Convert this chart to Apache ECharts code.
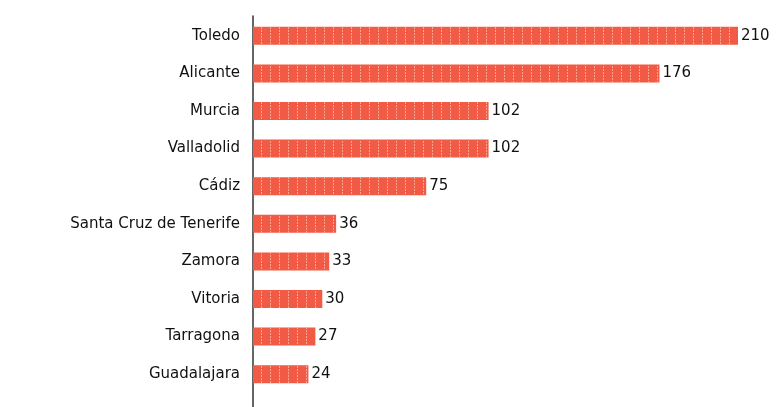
<!DOCTYPE html>
<html>
<head>
<meta charset="utf-8">
<script src="https://cdn.jsdelivr.net/npm/echarts@6/dist/echarts.min.js"></script>
<style>html,body{margin:0;padding:0;background:#fff;}#c{width:779px;height:407px;}</style>
</head>
<body>
<div id="c"></div>
<script>
const categories = ["Toledo","Alicante","Murcia","Valladolid","Cádiz","Santa Cruz de Tenerife","Zamora","Vitoria","Tarragona","Guadalajara"];
const values = [210,176,102,102,75,36,33,30,27,24];

const chart = echarts.init(document.getElementById('c'));
chart.setOption({
  animation: false,
  backgroundColor: '#fff',
  grid: [
    {left: 253, right: 41, top: 17, bottom: 14},
    {left: 253, right: 41, top: 16, bottom: 0}
  ],
  xAxis: [
    {type: 'value', gridIndex: 0, min: 0, max: 210, show: false},
    {type: 'value', gridIndex: 1, min: 0, max: 210, show: false}
  ],
  yAxis: [
    {
      type: 'category', gridIndex: 0, data: categories, inverse: true,
      axisLine: {show: false}, axisTick: {show: false},
      axisLabel: {color: '#111', fontFamily: 'DejaVu Sans', fontSize: 15, margin: 13}
    },
    {
      type: 'category', gridIndex: 1, data: [''],
      axisLine: {show: true, lineStyle: {color: '#333', width: 1.5}},
      axisTick: {show: false}, axisLabel: {show: false}
    }
  ],
  series: [{
    type: 'bar',
    xAxisIndex: 0, yAxisIndex: 0,
    data: values,
    barWidth: 18,
    itemStyle: {
      color: '#f15a45',
      decal: {
        symbol: 'rect',
        symbolSize: 1,
        dashArrayX: [1, 8],
        dashArrayY: [2, 1],
        color: 'rgba(255,190,170,0.75)'
      }
    },
    label: {
      show: true, position: 'right', distance: 3,
      color: '#111', fontFamily: 'DejaVu Sans', fontSize: 15
    }
  }]
});
</script>
</body>
</html>
